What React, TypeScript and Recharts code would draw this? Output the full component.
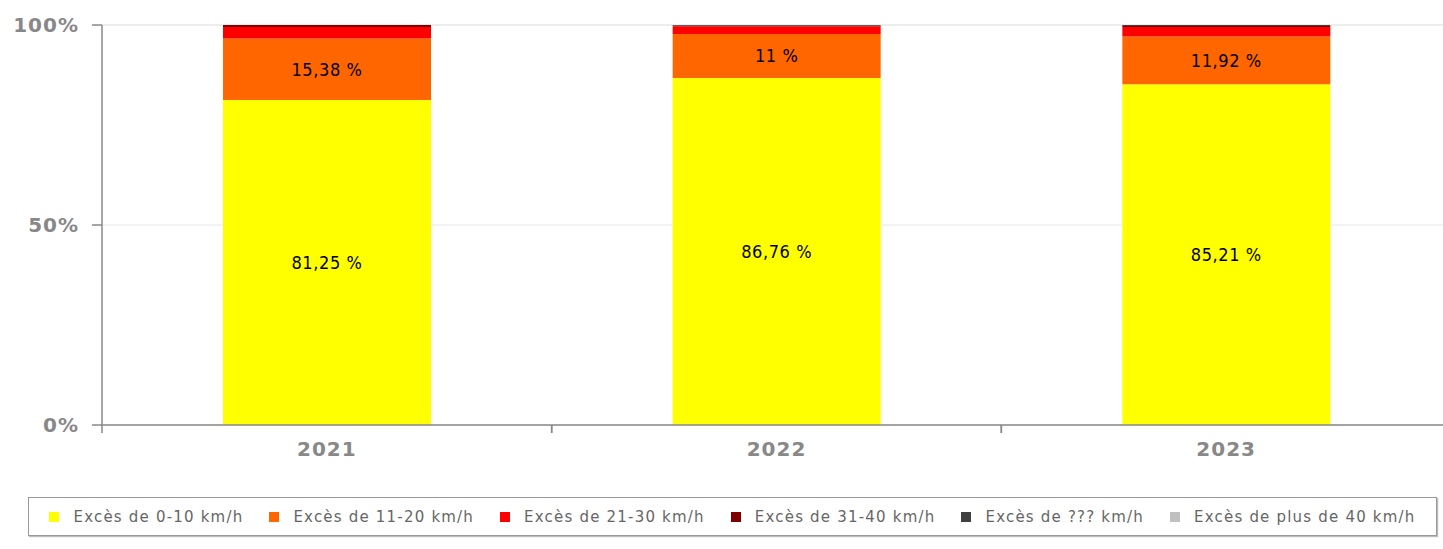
import React from 'react';
import { BarChart, Bar, XAxis, YAxis, CartesianGrid, LabelList } from 'recharts';

const years = ['2021', '2022', '2023'];
const exces0to10 = [81.25, 86.76, 85.21];
const exces11to20 = [15.38, 11, 11.92];
const exces21to30 = [2.89, 1.9, 2.39];
const exces31to40 = [0.48, 0.17, 0.24];
const excesUnknown = [0, 0.17, 0.24];
const excesOver40 = [0, 0, 0];
const yTicks = [0, 50, 100];

const series = [
  { key: 'e0', name: 'Excès de 0-10 km/h', color: '#ffff00', values: exces0to10, label: true },
  { key: 'e11', name: 'Excès de 11-20 km/h', color: '#ff6600', values: exces11to20, label: true },
  { key: 'e21', name: 'Excès de 21-30 km/h', color: '#ff0000', values: exces21to30, label: false },
  { key: 'e31', name: 'Excès de 31-40 km/h', color: '#800000', values: exces31to40, label: false },
  { key: 'eu', name: 'Excès de ??? km/h', color: '#404040', values: excesUnknown, label: false },
  { key: 'e40', name: 'Excès de plus de 40 km/h', color: '#c0c0c0', values: excesOver40, label: false },
];

const data = years.map((year, i) => {
  const row: Record<string, string | number> = { year };
  series.forEach(s => { row[s.key] = s.values[i]; });
  return row;
});

// 81.25 -> "81,25 %"
const formatPct = (v: number) => `${String(v).replace('.', ',')} %`;

const axisText = { fill: '#888', fontSize: 20, fontWeight: 'bold', fontFamily: 'DejaVu Sans', letterSpacing: 1 };
const LABEL_GAP = 17;

// year label + tick marks on the category boundaries (like the original)
const YearTick = (props: any) => {
  const { x, y, payload } = props;
  const half = payload.offset || 0;
  const axisY = y - LABEL_GAP;
  return (
    <g>
      <line x1={x - half} x2={x - half} y1={axisY} y2={axisY + 8} stroke="#888" strokeWidth={1.5} />
      <line x1={x + half} x2={x + half} y1={axisY} y2={axisY + 8} stroke="#888" strokeWidth={1.5} />
      <text x={x} y={y} dy="0.71em" textAnchor="middle" {...axisText}>{payload.value}</text>
    </g>
  );
};

const App: React.FC = () => {
  return (
    <div style={{ position: 'absolute', left: 0, top: 0, width: 1443, height: 549, overflow: 'hidden', background: '#fff' }}>
      <BarChart width={1451} height={549} data={data} margin={{ top: 25, right: 0, left: 0, bottom: 0 }}>
        <CartesianGrid vertical={false} stroke="#e6e6e6" />
        <XAxis
          dataKey="year"
          height={124}
          tickLine={false}
          tickSize={0}
          tickMargin={LABEL_GAP}
          stroke="#888"
          strokeWidth={1.5}
          tick={<YearTick />}
        />
        <YAxis
          width={102}
          domain={[0, 100]}
          ticks={yTicks}
          tickFormatter={(v: number) => `${v}%`}
          tickSize={10}
          tickMargin={13}
          stroke="#888"
          strokeWidth={1.5}
          tick={axisText}
        />
        {series.map(s => (
          <Bar key={s.key} dataKey={s.key} name={s.name} stackId="a" fill={s.color} barSize={208} isAnimationActive={false}>
            {s.label && (
              <LabelList
                dataKey={s.key}
                position="center"
                formatter={(v: number) => formatPct(v)}
                fill="#000"
                fontSize={18}
                letterSpacing={0.6}
                fontFamily="DejaVu Sans Condensed"
              />
            )}
          </Bar>
        ))}
      </BarChart>
      <div
        style={{
          position: 'absolute', left: 28, top: 497, width: 1407, height: 37,
          border: '1px solid #999', boxShadow: '1px 1px 1px #bbb',
          display: 'flex', alignItems: 'center', justifyContent: 'center',
          fontFamily: 'DejaVu Sans', fontSize: 15, letterSpacing: 1.2, color: '#666',
        }}
      >
        {series.map(s => (
          <div key={s.key} style={{ display: 'flex', alignItems: 'center', margin: '0 13px' }}>
            <span style={{ display: 'inline-block', width: 10, height: 10, background: s.color, marginRight: 14 }} />
            <span>{s.name}</span>
          </div>
        ))}
      </div>
    </div>
  );
};

export default App;
